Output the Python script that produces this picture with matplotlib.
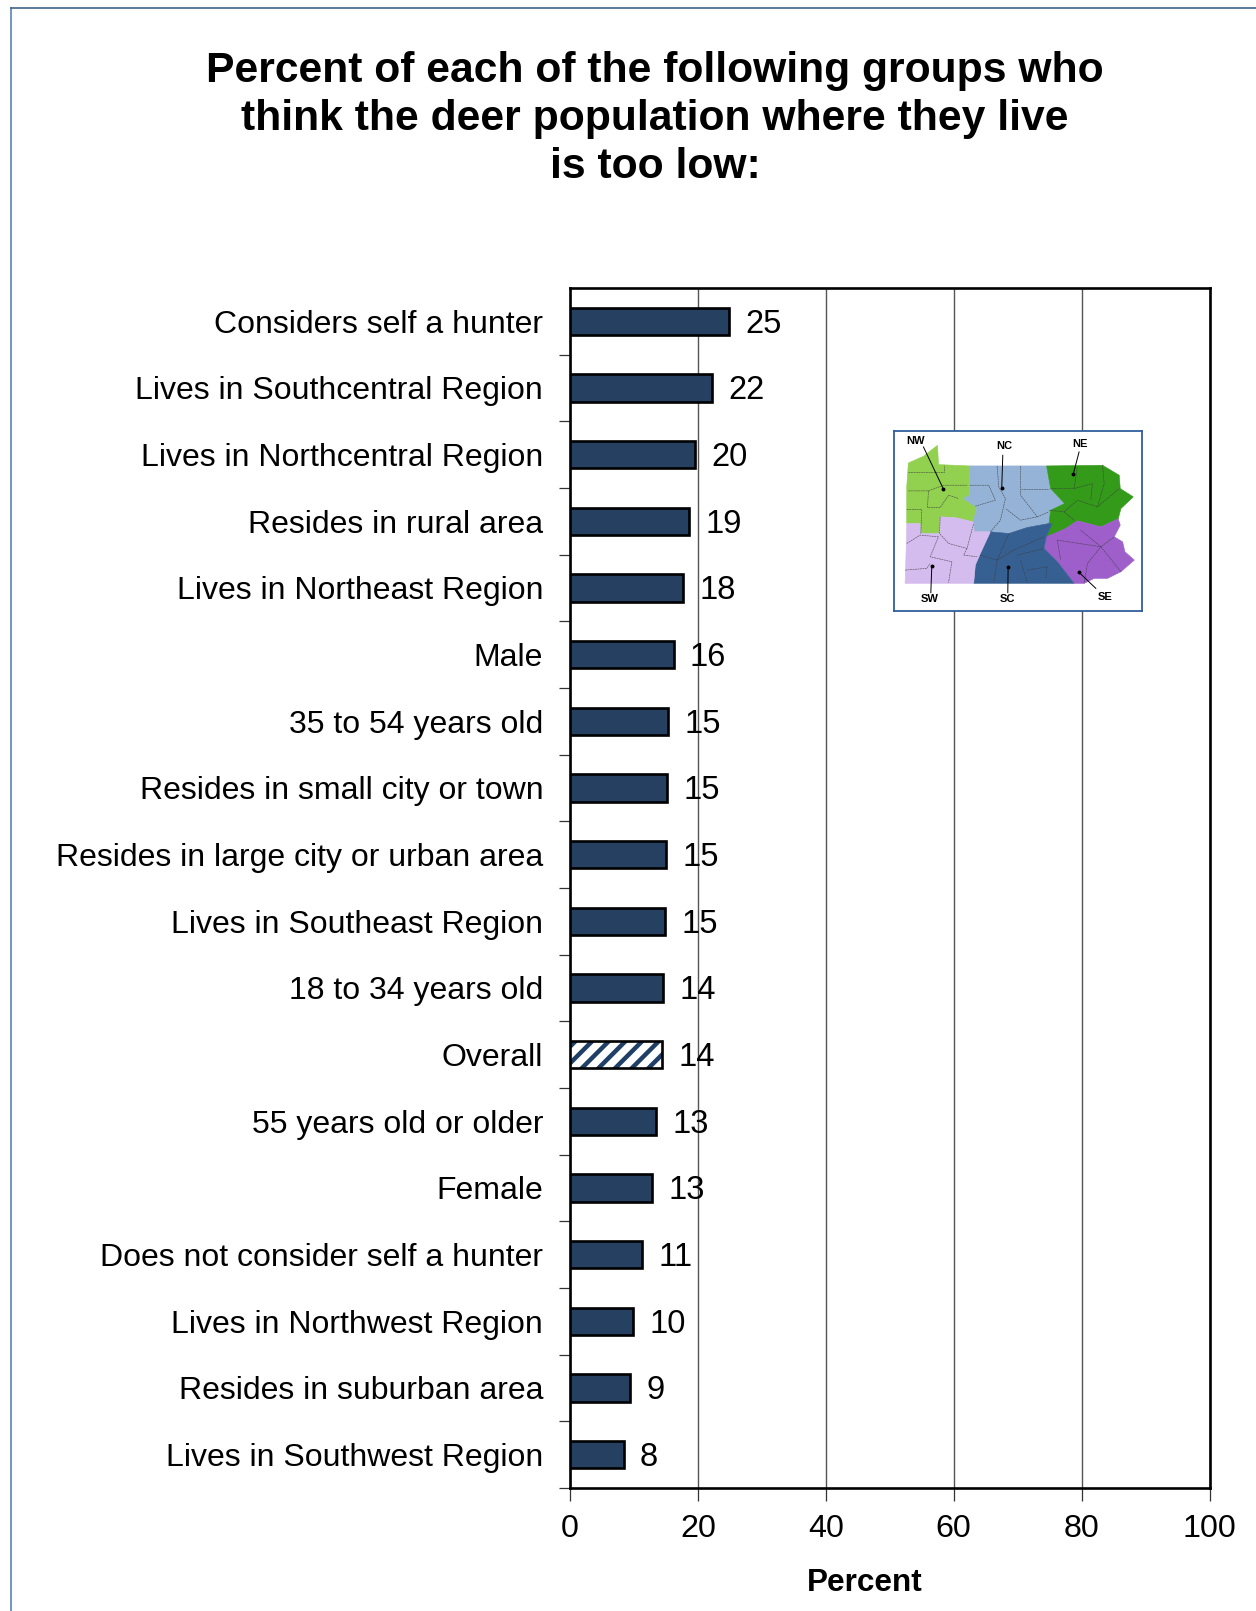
import matplotlib
matplotlib.use("Agg")
import matplotlib.pyplot as plt
from matplotlib.lines import Line2D
from matplotlib.patches import Polygon

plt.rcParams["font.family"] = ["Liberation Sans", "DejaVu Sans"]
plt.rcParams["hatch.linewidth"] = 3.2

# ========== data ==========
groups = ["Considers self a hunter", "Lives in Southcentral Region", "Lives in Northcentral Region",
          "Resides in rural area", "Lives in Northeast Region", "Male", "35 to 54 years old",
          "Resides in small city or town", "Resides in large city or urban area",
          "Lives in Southeast Region", "18 to 34 years old", "Overall", "55 years old or older",
          "Female", "Does not consider self a hunter", "Lives in Northwest Region",
          "Resides in suburban area", "Lives in Southwest Region"]
values = [24.8, 22.2, 19.6, 18.6, 17.7, 16.2, 15.4, 15.2, 15.0, 14.9, 14.6, 14.4, 13.4, 12.9, 11.2, 9.8, 9.4, 8.4]
shown = [25, 22, 20, 19, 18, 16, 15, 15, 15, 15, 14, 14, 13, 13, 11, 10, 9, 8]
xticks = [0, 20, 40, 60, 80, 100]

# map regions, in the pixel coordinates of the little map
nw = [(85, 128), (130, 108), (172, 75), (175, 133), (268, 137), (268, 225), (250, 235), (290, 262), (278, 305),
      (225, 292), (180, 290), (178, 340), (122, 340), (120, 310), (80, 310), (80, 200)]
nc = [(268, 137), (498, 137), (510, 205), (552, 250), (510, 270), (505, 310), (440, 322), (385, 340), (330, 335),
      (282, 335), (278, 305), (290, 262), (250, 235), (268, 225)]
ne = [(498, 137), (665, 135), (690, 150), (715, 165), (718, 205), (757, 230), (720, 265), (712, 296), (660, 320),
      (590, 302), (555, 325), (510, 350), (497, 350), (515, 310), (505, 310), (510, 270), (552, 250), (510, 205)]
se = [(497, 350), (555, 325), (590, 302), (660, 320), (712, 296), (718, 315), (700, 350), (725, 365), (732, 395),
      (760, 420), (720, 455), (680, 475), (640, 475), (610, 490), (580, 490), (530, 425), (490, 385)]
sc = [(330, 335), (385, 340), (440, 322), (505, 310), (515, 310), (497, 350), (490, 385), (530, 425), (580, 490),
      (280, 490), (285, 435), (300, 400)]
sw = [(80, 310), (120, 310), (122, 340), (178, 340), (180, 290), (225, 292), (278, 305), (282, 335), (330, 335),
      (300, 400), (285, 435), (280, 490), (75, 490), (78, 400)]
regions = [(nw, "#92d050"), (nc, "#95b3d7"), (ne, "#339a1a"), (se, "#9e5fcb"), (sc, "#376092"), (sw, "#d5bcee")]

# county borders
counties = [
    [(85, 155), (190, 155), (190, 133)], [(85, 212), (145, 212), (190, 195), (262, 195)],
    [(145, 212), (142, 262), (180, 262), (205, 225), (235, 235)], [(80, 268), (125, 268), (122, 340)],
    [(180, 290), (178, 340), (205, 370), (260, 385), (280, 310)], [(80, 370), (120, 345), (175, 350), (150, 410), (215, 425)],
    [(75, 450), (140, 445), (150, 430)], [(215, 425), (205, 488)], [(260, 385), (250, 405), (290, 410)],
    [(268, 195), (325, 195), (345, 240), (285, 258)], [(350, 137), (355, 200), (375, 235), (360, 300), (330, 335)],
    [(420, 137), (420, 225), (470, 290), (420, 300), (375, 265)], [(420, 205), (505, 205)], [(470, 290), (505, 275)],
    [(590, 140), (580, 205), (510, 205)], [(665, 135), (670, 190), (650, 260), (590, 240), (550, 275)],
    [(580, 205), (635, 190), (630, 240)], [(715, 205), (650, 260)], [(505, 270), (550, 275), (580, 300)],
    [(300, 405), (350, 420), (340, 488)], [(350, 420), (400, 390), (490, 350)], [(410, 405), (490, 385)],
    [(420, 420), (440, 488)], [(440, 450), (500, 440), (495, 475)], [(385, 340), (350, 420)],
    [(530, 360), (660, 380), (620, 430), (610, 490)], [(600, 330), (660, 380), (700, 350)],
    [(530, 360), (540, 420)], [(660, 380), (720, 455)],
]

# name, label position, leader start, leader end
map_labels = [("NW", (107, 62), (130, 80), (189, 205)), ("NC", (370, 78), (367, 105), (364, 202)),
              ("NE", (597, 70), (595, 95), (578, 160)), ("SW", (149, 538), (152, 518), (155, 437)),
              ("SC", (380, 538), (382, 518), (383, 440)), ("SE", (672, 530), (645, 505), (595, 457))]

# ========== figure ==========
W, H = 1256, 1611
fig = plt.figure(figsize=(W / 100, H / 100), dpi=100)

# page frame
fig.add_artist(Line2D([11 / W, 11 / W], [0, 1 - 8 / H], color="#7396bb", lw=1.4))
fig.add_artist(Line2D([11 / W, 1], [1 - 8 / H, 1 - 8 / H], color="#3f648c", lw=1.2))

x0, x1, y0, y1 = 570, 1209.5, 288, 1488
ax = fig.add_axes([x0 / W, 1 - y1 / H, (x1 - x0) / W, (y1 - y0) / H])

ypos = list(range(len(groups)))
for y, v, g, s in zip(ypos, values, groups, shown):
    if g == "Overall":
        ax.barh(y, v, height=0.41, color="white", edgecolor="#1f3f66", hatch="//", lw=0, zorder=3)
        ax.barh(y, v, height=0.41, color="none", edgecolor="black", lw=1.9, zorder=4)
    else:
        ax.barh(y, v, height=0.41, color="#254061", edgecolor="black", lw=1.9, zorder=3)
    ax.annotate(str(s), (v, y), xytext=(11.8, -2), textcoords="offset points", va="center", ha="left",
                fontsize=23.5, color="black", zorder=5)

ax.set_xlim(0, 100)
ax.set_ylim(len(groups) - 0.5, -0.5)
ax.set_xticks(xticks)
# ticks between the categories, none at the top corner
ax.set_yticks([y + 0.5 for y in ypos])
ax.set_yticklabels([])
ax.set_yticks(ypos, minor=True)
ax.set_yticklabels(groups, minor=True, fontsize=23.05)
ax.tick_params(axis="y", which="major", length=8, width=0.9, color="#333333")
ax.tick_params(axis="y", which="minor", length=0, pad=19.3)
ax.tick_params(axis="x", length=9, width=0.9, labelsize=23.2, pad=9.5, color="#333333")
ax.grid(axis="x", color="#555555", lw=1.0, zorder=1)
ax.set_axisbelow(True)
for sp in ax.spines.values():
    sp.set_linewidth(1.9)
    sp.set_color("black")

fig.text(655 / W, 1 - 119 / H, "Percent of each of the following groups who\nthink the deer population where they live\nis too low:",
         ha="center", va="center", fontsize=30.7, fontweight="bold", linespacing=1.26)
fig.text(865 / W, 1 - 1583 / H, "Percent", ha="center", va="center", fontsize=22.7, fontweight="bold")

# ========== little map ==========
mx0, mx1, my0, my1 = 894, 1142, 431, 611
m = fig.add_axes([mx0 / W, 1 - my1 / H, (mx1 - mx0) / W, (my1 - my0) / H], zorder=6)
m.set_xlim(42, 783)
m.set_ylim(573, 32)
m.set_xticks([])
m.set_yticks([])
for sp in m.spines.values():
    sp.set_color("#2f5f9e")
    sp.set_linewidth(1.3)
for pts, col in regions:
    m.add_patch(Polygon(pts, closed=True, facecolor=col, edgecolor=col, lw=0.4))
for line in counties:
    m.plot([p[0] for p in line], [p[1] for p in line], color="#3a3a3a", lw=0.45, ls=(0, (3, 1)), alpha=0.8)
for name, pos, start, end in map_labels:
    m.text(pos[0], pos[1], name, ha="center", va="center", fontsize=8, fontweight="bold")
    m.plot([start[0], end[0]], [start[1], end[1]], color="black", lw=0.7)
    m.plot(end[0], end[1], "o", color="black", ms=1.8)

fig.savefig("out.png", dpi=100)
